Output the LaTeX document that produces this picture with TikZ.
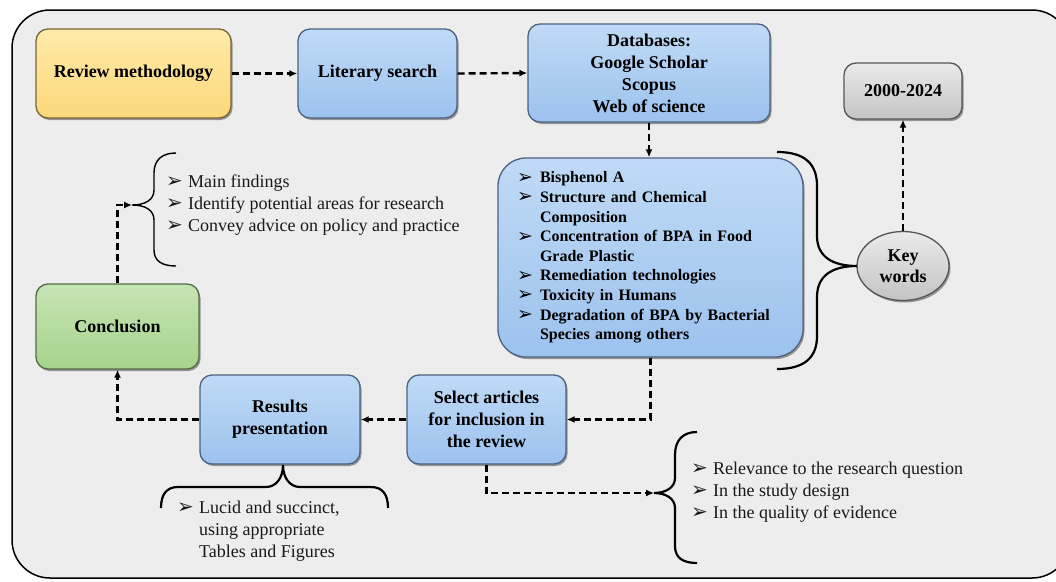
\documentclass[tikz,border=0pt]{standalone}
\usepackage{fontspec}
\setmainfont{Liberation Serif}
\newfontfamily\symfont{DejaVu Sans}
\usetikzlibrary{arrows.meta,shadows,shapes.geometric}
\definecolor{bgc}{HTML}{EDEDED}
\definecolor{bluetop}{HTML}{C0DAF6}
\definecolor{bluebot}{HTML}{9CC2EE}
\definecolor{bluedraw}{HTML}{4C6282}
\definecolor{yeltop}{HTML}{FFEBAA}
\definecolor{yelbot}{HTML}{FCD87A}
\definecolor{yeldraw}{HTML}{7A6535}
\definecolor{grntop}{HTML}{C6E4B4}
\definecolor{grnbot}{HTML}{A6D48C}
\definecolor{grndraw}{HTML}{566C44}
\definecolor{grytop}{HTML}{EAEAEA}
\definecolor{grybot}{HTML}{C4C4C4}
\definecolor{grydraw}{HTML}{555555}
\newcommand\bb{\makebox[23pt][l]{\raisebox{-0.5pt}{\symfont\fontsize{19}{19}\selectfont\char"27A2}}}
\newcommand\br{\makebox[22pt][l]{\raisebox{-0.5pt}{\symfont\fontsize{20}{20}\selectfont\char"27A2}}}
\tikzset{
  base/.style={rounded corners=12pt, line width=1.3pt, align=center, inner sep=0pt,
    font=\fontsize{18}{22}\selectfont\bfseries,
    drop shadow={shadow xshift=1.5pt, shadow yshift=-2pt, opacity=0.55, fill=black!70}},
  bluebox/.style={base, draw=bluedraw, top color=bluetop, bottom color=bluebot},
  yelbox/.style={base, draw=yeldraw, top color=yeltop, bottom color=yelbot},
  grnbox/.style={base, draw=grndraw, top color=grntop, bottom color=grnbot},
  grybox/.style={base, draw=grydraw, top color=grytop, bottom color=grybot},
  conn/.style={line width=2.4pt, dash pattern=on 7pt off 4pt, -{Latex[length=8pt,width=7pt]}},
  brc/.style={line width=2.2pt},
  thinbrc/.style={line width=1.4pt},
  listtxt/.style={inner sep=0pt, align=left, text=black!90, font=\fontsize{18}{22}\selectfont}
}
\begin{document}
\begin{tikzpicture}[x=1pt,y=-1pt]
\useasboundingbox (0,0) rectangle (1056,581);
\clip (0,0) rectangle (1056,581);
\fill[white] (0,0) rectangle (1056,581);
\draw[line width=1.5pt, fill=bgc, rounded corners=38pt] (12,10) rectangle (1070,578);

% main nodes
\node[yelbox, minimum width=195pt, minimum height=89pt] (rm) at (133.5,73.5) {Review methodology};
\node[bluebox, minimum width=159pt, minimum height=89pt] (ls) at (377.5,73.5) {Literary search};
\node[bluebox, minimum width=242pt, minimum height=98pt] (db) at (649,73) {Databases:\\Google Scholar\\Scopus\\Web of science};
\node[grybox, minimum width=118pt, minimum height=56pt] (yr) at (903,91) {2000-2024};
\node[grybox, ellipse, rounded corners=0pt, minimum width=92pt, minimum height=69pt,
      font=\fontsize{18}{21}\selectfont\bfseries] (kwe) at (903,266) {Key\\words};
\node[bluebox, rounded corners=28pt, minimum width=305pt, minimum height=199pt,
      text width=267pt, align=left, font=\fontsize{16}{19.6}\selectfont\bfseries] (kw) at (650.5,257.5) {%
\bb Bisphenol A\\
\bb Structure and Chemical\\
\hspace*{23pt}Composition\\
\bb Concentration of BPA in Food\\
\hspace*{23pt}Grade Plastic\\
\bb Remediation technologies\\
\bb Toxicity in Humans\\
\bb Degradation of BPA by Bacterial\\
\hspace*{23pt}Species among others};
\node[bluebox, minimum width=159pt, minimum height=89pt] (sel) at (486.5,419.5) {Select articles\\for inclusion in\\the review};
\node[bluebox, minimum width=160pt, minimum height=89pt] (res) at (280,419.5) {Results\\presentation};
\node[grnbox, minimum width=163pt, minimum height=85pt] (con) at (117.5,326.5) {Conclusion};

% text lists
\node[listtxt, anchor=west] (cl) at (166,205) {\br Main findings\\\br Identify potential areas for research\\\br Convey advice on policy and practice};
\node[listtxt, anchor=west] (sl) at (691,492) {\br Relevance to the research question\\\br In the study design\\\br In the quality of evidence};
\node[listtxt, anchor=west] (rl) at (177,531) {\br Lucid and succinct,\\\hspace*{22pt}using appropriate\\\hspace*{22pt}Tables and Figures};

% brace tips
\coordinate (cbt) at (132,205);
\coordinate (sbt) at (654,493);
\coordinate (kbt) at (857,266);
\coordinate (rbt) at (283,465);

% braces
\draw[brc] (777,152) .. controls (805,152) and (817,164) .. (817,186) -- (817,236)
  .. controls (817,257) and (833,266) .. (kbt)
  .. controls (833,266) and (817,275) .. (817,297) -- (817,336)
  .. controls (817,357) and (805,369) .. (777,369);
\draw[thinbrc] (176,153) .. controls (162,153) and (154,160) .. (154,173) -- (154,190)
  .. controls (154,200) and (145,205) .. (cbt)
  .. controls (145,205) and (154,210) .. (154,220) -- (154,250)
  .. controls (154,261) and (162,266) .. (176,266);
\draw[brc] (697,432) .. controls (683,432) and (675,440) .. (675,455) -- (675,478)
  .. controls (675,488) and (665,493) .. (sbt)
  .. controls (665,493) and (675,498) .. (675,508) -- (675,546)
  .. controls (675,558) and (683,563) .. (697,563);
\draw[brc] (161,508) .. controls (161,495) and (166,487) .. (178,487) -- (266,487)
  .. controls (276,487) and (283,478) .. (rbt)
  .. controls (283,478) and (290,487) .. (300,487) -- (371,487)
  .. controls (383,487) and (388,495) .. (388,508);

% connectors
\draw[conn] (rm.east) -- (ls.west);
\draw[conn] (ls.east) -- (db.west);
\draw[conn] (db.south) -- (db.south |- kw.north);
\draw[conn] (kwe.north) -- (yr.south);
\draw[conn] (kw.south) |- (sel.east);
\draw[conn] (sel.west) -- (res.east);
\draw[conn] (res.west) -| (con.south);
\draw[conn] (con.north) |- (cbt);
\draw[conn] (sel.south) |- (sbt);
\end{tikzpicture}
\end{document}
